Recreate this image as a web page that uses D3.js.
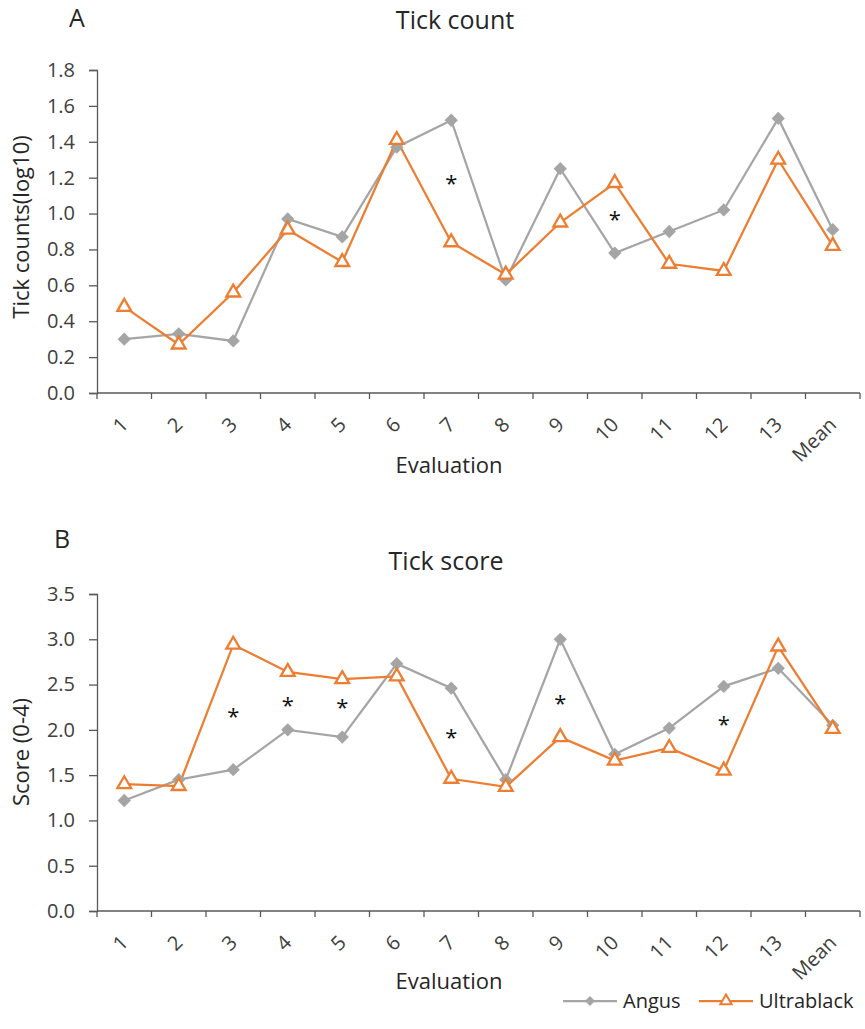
<!DOCTYPE html>
<html>
<head>
<meta charset="utf-8">
<script src="https://cdn.jsdelivr.net/npm/d3@7"></script>
<style>
  html, body { margin: 0; padding: 0; background: #fff; }
  svg { display: block; font-family: "Open Sans", "Noto Sans", sans-serif; }
</style>
</head>
<body>
<svg id="chart" width="865" height="1029"></svg>
<script>
// ---------- data ----------
const categories = ["1","2","3","4","5","6","7","8","9","10","11","12","13","Mean"];

const countAngus      = [0.30,0.33,0.29,0.97,0.87,1.37,1.52,0.63,1.25,0.78,0.90,1.02,1.53,0.91];
const countUltrablack = [0.48,0.27,0.56,0.91,0.73,1.41,0.84,0.66,0.95,1.17,0.72,0.68,1.30,0.82];

const scoreAngus      = [1.22,1.45,1.56,2.00,1.92,2.73,2.46,1.45,3.00,1.73,2.02,2.48,2.68,2.05];
const scoreUltrablack = [1.40,1.38,2.94,2.64,2.56,2.59,1.46,1.37,1.92,1.66,1.80,1.55,2.92,2.01];

const countTicks = [0,0.2,0.4,0.6,0.8,1.0,1.2,1.4,1.6,1.8];
const scoreTicks = [0,0.5,1.0,1.5,2.0,2.5,3.0,3.5];

// significance markers (category, height)
const countSigCats = ["7","10"];
const countSigY    = [1.19,0.99];
const scoreSigCats = ["3","4","5","7","9","12"];
const scoreSigY    = [2.20,2.32,2.30,1.96,2.34,2.11];

const seriesNames = ["Angus","Ultrablack"];

// ---------- style ----------
const GRAY = "#a5a5a5";
const ORANGE = "#ed7d31";
const AXIS = "#595959";
const TEXT = "#262626";
const TICKTEXT = "#404040";

const svg = d3.select("#chart");

function panel(opts) {
  const g = svg.append("g");
  const x = d3.scaleBand().domain(categories).range([97, 860]).padding(0);
  const y = d3.scaleLinear().domain([0, opts.yMax]).range([opts.yBottom, opts.yTop]);
  const cx = d => x(d) + x.bandwidth() / 2;

  // panel letter
  g.append("text").attr("x", opts.letterX).attr("y", opts.letterY)
    .attr("text-anchor", "middle").attr("font-size", 25).attr("fill", TEXT).text(opts.letter);
  // title
  g.append("text").attr("x", opts.titleX).attr("y", opts.titleY)
    .attr("text-anchor", "middle").attr("font-size", 25).attr("fill", TEXT).text(opts.title);

  // y axis
  const yAxis = d3.axisLeft(y).tickValues(opts.ticks).tickFormat(d3.format(".1f"))
    .tickSize(8).tickPadding(14);
  const ya = g.append("g").attr("transform", "translate(97,0)").call(yAxis);
  ya.select(".domain").attr("stroke", AXIS).attr("stroke-width", 1.3);
  ya.selectAll(".tick line").attr("stroke", AXIS).attr("stroke-width", 1.3);
  ya.selectAll(".tick text").attr("font-size", 20).attr("fill", TICKTEXT)
    .attr("font-family", "Open Sans, sans-serif");

  // y label
  g.append("text")
    .attr("transform", `translate(29,${opts.yLabelY}) rotate(-90)`)
    .attr("text-anchor", "middle").attr("font-size", 22).attr("fill", TEXT).text(opts.yLabel);

  // x axis line and boundary ticks
  const xAxisY = y(0);
  g.append("line").attr("x1", x.range()[0]).attr("x2", x.range()[1])
    .attr("y1", xAxisY).attr("y2", xAxisY).attr("stroke", AXIS).attr("stroke-width", 1.3);
  const bounds = categories.map(d => x(d)).concat([x.range()[1]]);
  g.selectAll(".xb").data(bounds).enter().append("line")
    .attr("x1", d => d).attr("x2", d => d)
    .attr("y1", xAxisY).attr("y2", xAxisY + 6)
    .attr("stroke", AXIS).attr("stroke-width", 1.3);
  // x tick labels
  g.selectAll(".xl").data(categories).enter().append("text")
    .attr("transform", d => `translate(${cx(d) + 5},${xAxisY + 33}) rotate(-45)`)
    .attr("text-anchor", "end").attr("font-size", 20).attr("fill", TICKTEXT).text(d => d);
  // x label
  g.append("text").attr("x", 449).attr("y", xAxisY + opts.xLabelDy)
    .attr("text-anchor", "middle").attr("font-size", 22).attr("fill", TEXT).text("Evaluation");

  // lines
  const line = d3.line().x((d, i) => cx(categories[i])).y(d => y(d));
  g.append("path").datum(opts.a).attr("d", line).attr("fill", "none")
    .attr("stroke", GRAY).attr("stroke-width", 2.25);
  g.append("path").datum(opts.b).attr("d", line).attr("fill", "none")
    .attr("stroke", ORANGE).attr("stroke-width", 2.25);

  // markers
  g.selectAll(".dm").data(opts.a).enter().append("path")
    .attr("d", d3.symbol().type(d3.symbolSquare).size(88))
    .attr("transform", (d, i) => `translate(${cx(categories[i])},${y(d)}) rotate(45)`)
    .attr("fill", GRAY);
  const tri = d3.symbol().type(d3.symbolTriangle).size(82);
  g.selectAll(".tr").data(opts.b).enter().append("path")
    .attr("d", tri)
    .attr("transform", (d, i) => `translate(${cx(categories[i])},${y(d)})`)
    .attr("fill", "#fff").attr("stroke", ORANGE).attr("stroke-width", 2.3);

  // significance asterisks
  g.selectAll(".sig").data(opts.sigCats).enter().append("text")
    .attr("x", d => cx(d))
    .attr("y", (d, i) => y(opts.sigY[i]) + 12)
    .attr("text-anchor", "middle").attr("font-size", 22).attr("fill", "#111").text("*");

  return { x, y };
}

panel({
  letter: "A", letterX: 77, letterY: 27,
  title: "Tick count", titleX: 455, titleY: 29,
  yMax: 1.8, yTop: 70, yBottom: 393, ticks: countTicks,
  yLabel: "Tick counts(log10)", yLabelY: 227, xLabelDy: 80,
  a: countAngus, b: countUltrablack,
  sigCats: countSigCats, sigY: countSigY
});

panel({
  letter: "B", letterX: 62, letterY: 548,
  title: "Tick score", titleX: 446, titleY: 570,
  yMax: 3.5, yTop: 594, yBottom: 911, ticks: scoreTicks,
  yLabel: "Score (0-4)", yLabelY: 752, xLabelDy: 78,
  a: scoreAngus, b: scoreUltrablack,
  sigCats: scoreSigCats, sigY: scoreSigY
});

// legend
const legend = svg.append("g");
const legX = [563, 699];
const legColors = [GRAY, ORANGE];
seriesNames.forEach((name, i) => {
  const lx = legX[i], ly = 1001;
  legend.append("line").attr("x1", lx).attr("x2", lx + 54).attr("y1", ly).attr("y2", ly)
    .attr("stroke", legColors[i]).attr("stroke-width", 2.25);
  if (i === 0) {
    legend.append("path").attr("d", d3.symbol().type(d3.symbolSquare).size(50))
      .attr("transform", `translate(${lx + 27},${ly}) rotate(45)`).attr("fill", GRAY);
  } else {
    legend.append("path").attr("d", d3.symbol().type(d3.symbolTriangle).size(55))
      .attr("transform", `translate(${lx + 27},${ly})`)
      .attr("fill", "#fff").attr("stroke", ORANGE).attr("stroke-width", 2);
  }
  legend.append("text").attr("x", lx + 60).attr("y", ly + 7)
    .attr("font-size", 20).attr("fill", TEXT).text(name);
});
</script>
</body>
</html>
